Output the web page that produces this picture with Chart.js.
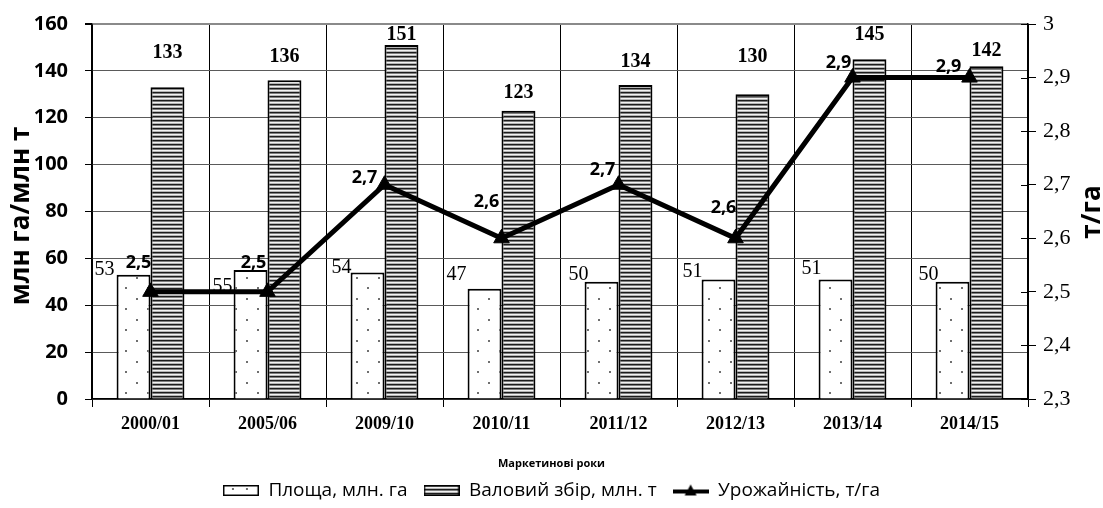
<!DOCTYPE html>
<html>
<head>
<meta charset="utf-8">
<script src="https://cdn.jsdelivr.net/npm/chart.js@4.4.1/dist/chart.umd.min.js"></script>
<style>
  html, body { margin: 0; padding: 0; background: #fff; }
  #wrap { width: 1103px; height: 508px; }
</style>
</head>
<body>
<div id="wrap"><canvas id="chart"></canvas></div>
<script>
// Data
const years = ['2000/01', '2005/06', '2009/10', '2010/11', '2011/12', '2012/13', '2013/14', '2014/15'];
const area = [53, 55, 54, 47, 50, 51, 51, 50];            // Площа, млн. га
const harvest = [133, 136, 151, 123, 134, 130, 145, 142];  // Валовий збір, млн. т
const yieldT = [2.5, 2.5, 2.7, 2.6, 2.7, 2.6, 2.9, 2.9];   // Урожайність, т/га
const legendNames = ['Площа, млн. га', 'Валовий збір, млн. т', 'Урожайність, т/га'];

// Label placement (the labels in the original were nudged by hand)
const harvestLabelLift = [34, 23, 10, 18, 23, 37, 24, 15];
const areaLabelShift = [[-29, -5], [-28, 17], [-26, -5], [-28, -14], [-23, -7], [-26, -8], [-24, -11], [-24, -7]];
const yieldLabelShift = [[-12, -29], [-14, -29], [-20, -7], [-15, -36], [-16, -15], [-12, -30], [-14, -15], [-21, -11]];

const SANS = "'Open Sans', 'Liberation Sans', sans-serif";
const SERIF = "'Liberation Serif', 'DejaVu Serif', serif";

function makeCanvas(w, h) {
  const c = document.createElement('canvas');
  c.width = w; c.height = h;
  return c;
}

// Dotted fill
function dotTile() {
  const c = makeCanvas(22, 21);
  const g = c.getContext('2d');
  g.fillStyle = '#fff';
  g.fillRect(0, 0, 22, 21);
  g.fillStyle = '#6f6f6f';
  g.fillRect(4, 4, 2, 2);
  g.fillRect(15, 14, 2, 2);
  return c;
}

// Horizontal stripes
const stripeColors = ['#1c1c1c', '#7e7e7e', '#f2f2f2', '#b5b5b5'];
function stripeTile() {
  const c = makeCanvas(4, 4);
  const g = c.getContext('2d');
  stripeColors.forEach((col, i) => {
    g.fillStyle = col;
    g.fillRect(0, i, 4, 1);
  });
  return c;
}

const ctx0 = document.getElementById('chart').getContext('2d');
const dotPattern = ctx0.createPattern(dotTile(), 'repeat');
const stripePattern = ctx0.createPattern(stripeTile(), 'repeat');

// Legend icons
function boxIcon(dots) {
  const c = makeCanvas(36, 11);
  const g = c.getContext('2d');
  if (dots) {
    g.fillStyle = '#fff';
    g.fillRect(1, 1, 34, 9);
    g.fillStyle = '#6f6f6f';
    g.fillRect(9, 3, 2, 2);
    g.fillRect(23, 3, 2, 2);
  } else {
    for (let y = 1; y < 10; y++) {
      g.fillStyle = stripeColors[y % 4];
      g.fillRect(1, y, 34, 1);
    }
  }
  g.strokeStyle = '#000';
  g.lineWidth = 1.5;
  g.strokeRect(0.75, 0.75, 34.5, 9.5);
  return c;
}
function lineIcon() {
  const c = makeCanvas(36, 14);
  const g = c.getContext('2d');
  g.fillStyle = '#000';
  g.fillRect(0, 6, 36, 4);
  g.beginPath();
  g.moveTo(18, 1);
  g.lineTo(24, 12);
  g.lineTo(12, 12);
  g.closePath();
  g.fill();
  return c;
}
const legendIcons = [boxIcon(true), boxIcon(false), lineIcon()];

const fmtComma = v => String(Number(v.toFixed(1))).replace('.', ',');

// Data labels, axis titles and small extras
const extrasPlugin = {
  id: 'extras',
  afterDatasetsDraw(chart) {
    const ctx = chart.ctx;
    ctx.save();
    ctx.fillStyle = '#000';
    ctx.textAlign = 'center';
    ctx.textBaseline = 'middle';

    ctx.font = '20px ' + SERIF;
    chart.getDatasetMeta(0).data.forEach((bar, i) => {
      const [dx, dy] = areaLabelShift[i];
      ctx.fillText(area[i], bar.x + dx, bar.y + dy);
    });

    ctx.font = 'bold 20px ' + SERIF;
    chart.getDatasetMeta(1).data.forEach((bar, i) => {
      ctx.fillText(harvest[i], bar.x, bar.y - harvestLabelLift[i]);
    });

    ctx.font = 'bold 18px ' + SANS;
    chart.getDatasetMeta(2).data.forEach((pt, i) => {
      const [dx, dy] = yieldLabelShift[i];
      ctx.fillText(fmtComma(yieldT[i]), pt.x + dx, pt.y + dy);
    });
    ctx.restore();
  },
  afterDraw(chart) {
    const ctx = chart.ctx;
    const ca = chart.chartArea;
    const y2 = chart.scales.y2;
    ctx.save();
    // inner half of the right axis ticks
    ctx.strokeStyle = '#000';
    ctx.lineWidth = 1;
    y2.ticks.forEach((t, i) => {
      const py = Math.round(y2.getPixelForTick(i)) + 0.5;
      ctx.beginPath();
      ctx.moveTo(ca.right - 7, py);
      ctx.lineTo(ca.right, py);
      ctx.stroke();
    });

    ctx.fillStyle = '#000';
    ctx.textAlign = 'center';
    ctx.textBaseline = 'middle';

    ctx.font = 'bold 26px ' + SANS;
    ctx.save();
    ctx.translate(22, 216);
    ctx.rotate(-Math.PI / 2);
    ctx.fillText('млн га/млн т', 0, 0);
    ctx.restore();

    ctx.save();
    ctx.translate(1093, 212);
    ctx.rotate(-Math.PI / 2);
    ctx.fillText('т/га', 0, 0);
    ctx.restore();

    ctx.font = 'bold 11px ' + SANS;
    ctx.fillText('Маркетинові роки', chart.width / 2, 464);
    ctx.restore();
  }
};

// fixed axis sizes so the plot box sits where it does in the original
const fixWidth = w => s => { s.width = w; s.paddingTop = 0; s.paddingBottom = 0; };

new Chart(ctx0, {
  data: {
    labels: years,
    datasets: [{
      type: 'bar',
      label: legendNames[0],
      data: area,
      backgroundColor: dotPattern,
      borderColor: '#000',
      borderWidth: 2,
      categoryPercentage: 0.58,
      barPercentage: 1,
      yAxisID: 'y',
      order: 1
    }, {
      type: 'bar',
      label: legendNames[1],
      data: harvest,
      backgroundColor: stripePattern,
      borderColor: '#000',
      borderWidth: 2,
      categoryPercentage: 0.58,
      barPercentage: 1,
      yAxisID: 'y',
      order: 1
    }, {
      type: 'line',
      label: legendNames[2],
      data: yieldT,
      borderColor: '#000',
      borderWidth: 5,
      backgroundColor: '#000',
      pointStyle: 'triangle',
      pointRadius: 9,
      pointBackgroundColor: '#000',
      pointBorderColor: '#000',
      pointBorderWidth: 1,
      tension: 0,
      yAxisID: 'y2',
      order: 0
    }]
  },
  options: {
    responsive: true,
    maintainAspectRatio: false,
    animation: false,
    layout: { autoPadding: false, padding: { top: 24, left: 0, right: 0, bottom: -2 } },
    plugins: {
      tooltip: { enabled: false },
      legend: {
        position: 'bottom',
        labels: {
          usePointStyle: true,
          pointStyleWidth: 36,
          boxHeight: 14,
          padding: 16,
          color: '#000',
          font: { family: SANS, size: 19 },
          generateLabels: () => legendNames.map((text, i) => ({
            text,
            pointStyle: legendIcons[i],
            fillStyle: 'transparent',
            strokeStyle: 'transparent',
            lineWidth: 0,
            hidden: false,
            datasetIndex: i
          }))
        }
      }
    },
    scales: {
      x: {
        afterFit: s => { s.height = 66; },
        grid: { offset: true, color: '#000', lineWidth: 1, tickLength: 8, tickColor: '#000' },
        border: { color: '#000', width: 1.5 },
        ticks: { color: '#000', padding: 7, font: { family: SERIF, size: 18, weight: 'bold' } }
      },
      y: {
        position: 'left',
        min: 0,
        max: 160,
        afterFit: fixWidth(92),
        grid: {
          color: c => c.tick && c.tick.value === 160 ? '#8a8a8a' : '#5a5a5a',
          lineWidth: c => c.tick && c.tick.value === 160 ? 2 : 1,
          tickLength: 7,
          tickColor: '#000'
        },
        border: { color: '#000', width: 1.5 },
        ticks: { stepSize: 20, color: '#000', padding: 17, font: { family: SANS, size: 20, weight: 'bold' } }
      },
      y2: {
        position: 'right',
        min: 2.3,
        max: 3,
        afterFit: fixWidth(75),
        grid: { drawOnChartArea: false, tickLength: 8, color: '#000' },
        border: { color: '#000', width: 1.5 },
        ticks: { stepSize: 0.1, color: '#000', padding: 7, font: { family: SERIF, size: 22 }, callback: v => fmtComma(v) }
      }
    }
  },
  plugins: [extrasPlugin]
});
</script>
</body>
</html>
